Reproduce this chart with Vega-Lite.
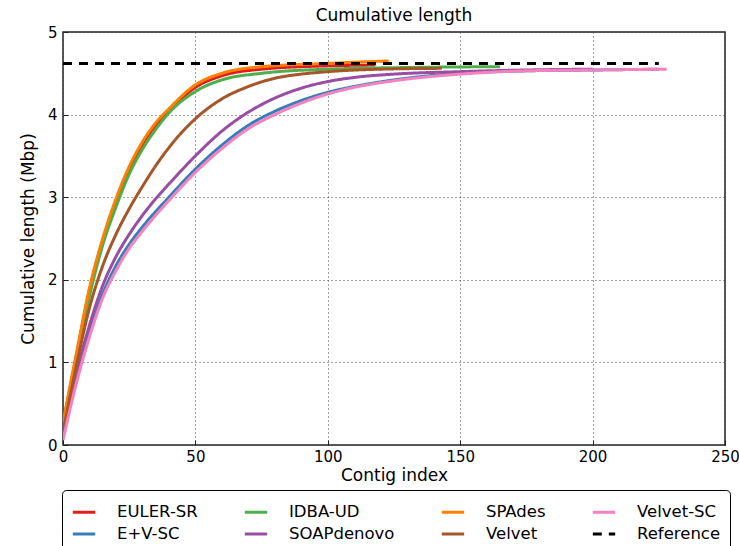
{
  "$schema": "https://vega.github.io/schema/vega-lite/v6.json",
  "width": 662,
  "height": 413,
  "autosize": {"type": "none"},
  "padding": {"left": 63, "top": 32, "right": 14, "bottom": 101},
  "background": "white",
  "title": {"text": "Cumulative length", "font": "DejaVu Sans", "fontSize": 17, "fontWeight": "normal", "color": "#000", "offset": 0},
  "data": {
    "values": [
      {"assembler": "EULER-SR", "index": 0, "length": 0.26},
      {"assembler": "EULER-SR", "index": 5, "length": 1.07},
      {"assembler": "EULER-SR", "index": 10, "length": 1.87},
      {"assembler": "EULER-SR", "index": 15, "length": 2.47},
      {"assembler": "EULER-SR", "index": 20, "length": 2.95},
      {"assembler": "EULER-SR", "index": 25, "length": 3.34},
      {"assembler": "EULER-SR", "index": 30, "length": 3.64},
      {"assembler": "EULER-SR", "index": 35, "length": 3.87},
      {"assembler": "EULER-SR", "index": 40, "length": 4.04},
      {"assembler": "EULER-SR", "index": 50, "length": 4.33},
      {"assembler": "EULER-SR", "index": 60, "length": 4.47},
      {"assembler": "EULER-SR", "index": 75, "length": 4.55},
      {"assembler": "EULER-SR", "index": 100, "length": 4.59},
      {"assembler": "EULER-SR", "index": 118, "length": 4.6},

      {"assembler": "E+V-SC", "index": 0, "length": 0.1},
      {"assembler": "E+V-SC", "index": 5, "length": 0.8},
      {"assembler": "E+V-SC", "index": 10, "length": 1.37},
      {"assembler": "E+V-SC", "index": 15, "length": 1.83},
      {"assembler": "E+V-SC", "index": 20, "length": 2.17},
      {"assembler": "E+V-SC", "index": 25, "length": 2.43},
      {"assembler": "E+V-SC", "index": 30, "length": 2.64},
      {"assembler": "E+V-SC", "index": 40, "length": 3.0},
      {"assembler": "E+V-SC", "index": 50, "length": 3.34},
      {"assembler": "E+V-SC", "index": 60, "length": 3.63},
      {"assembler": "E+V-SC", "index": 70, "length": 3.87},
      {"assembler": "E+V-SC", "index": 80, "length": 4.04},
      {"assembler": "E+V-SC", "index": 90, "length": 4.17},
      {"assembler": "E+V-SC", "index": 100, "length": 4.27},
      {"assembler": "E+V-SC", "index": 110, "length": 4.34},
      {"assembler": "E+V-SC", "index": 125, "length": 4.42},
      {"assembler": "E+V-SC", "index": 150, "length": 4.5},
      {"assembler": "E+V-SC", "index": 175, "length": 4.53},
      {"assembler": "E+V-SC", "index": 200, "length": 4.54},
      {"assembler": "E+V-SC", "index": 225, "length": 4.55},

      {"assembler": "IDBA-UD", "index": 0, "length": 0.2},
      {"assembler": "IDBA-UD", "index": 5, "length": 1.02},
      {"assembler": "IDBA-UD", "index": 10, "length": 1.8},
      {"assembler": "IDBA-UD", "index": 15, "length": 2.42},
      {"assembler": "IDBA-UD", "index": 20, "length": 2.88},
      {"assembler": "IDBA-UD", "index": 25, "length": 3.28},
      {"assembler": "IDBA-UD", "index": 30, "length": 3.58},
      {"assembler": "IDBA-UD", "index": 35, "length": 3.82},
      {"assembler": "IDBA-UD", "index": 40, "length": 4.02},
      {"assembler": "IDBA-UD", "index": 50, "length": 4.28},
      {"assembler": "IDBA-UD", "index": 60, "length": 4.42},
      {"assembler": "IDBA-UD", "index": 75, "length": 4.5},
      {"assembler": "IDBA-UD", "index": 100, "length": 4.55},
      {"assembler": "IDBA-UD", "index": 130, "length": 4.57},
      {"assembler": "IDBA-UD", "index": 165, "length": 4.58},

      {"assembler": "SOAPdenovo", "index": 0, "length": 0.12},
      {"assembler": "SOAPdenovo", "index": 5, "length": 0.86},
      {"assembler": "SOAPdenovo", "index": 10, "length": 1.45},
      {"assembler": "SOAPdenovo", "index": 15, "length": 1.93},
      {"assembler": "SOAPdenovo", "index": 20, "length": 2.28},
      {"assembler": "SOAPdenovo", "index": 25, "length": 2.55},
      {"assembler": "SOAPdenovo", "index": 30, "length": 2.78},
      {"assembler": "SOAPdenovo", "index": 35, "length": 2.98},
      {"assembler": "SOAPdenovo", "index": 40, "length": 3.16},
      {"assembler": "SOAPdenovo", "index": 50, "length": 3.5},
      {"assembler": "SOAPdenovo", "index": 60, "length": 3.8},
      {"assembler": "SOAPdenovo", "index": 70, "length": 4.03},
      {"assembler": "SOAPdenovo", "index": 80, "length": 4.2},
      {"assembler": "SOAPdenovo", "index": 90, "length": 4.32},
      {"assembler": "SOAPdenovo", "index": 100, "length": 4.4},
      {"assembler": "SOAPdenovo", "index": 110, "length": 4.45},
      {"assembler": "SOAPdenovo", "index": 125, "length": 4.49},
      {"assembler": "SOAPdenovo", "index": 150, "length": 4.52},
      {"assembler": "SOAPdenovo", "index": 175, "length": 4.54},
      {"assembler": "SOAPdenovo", "index": 200, "length": 4.55},

      {"assembler": "SPAdes", "index": 0, "length": 0.27},
      {"assembler": "SPAdes", "index": 5, "length": 1.1},
      {"assembler": "SPAdes", "index": 10, "length": 1.9},
      {"assembler": "SPAdes", "index": 15, "length": 2.5},
      {"assembler": "SPAdes", "index": 20, "length": 2.98},
      {"assembler": "SPAdes", "index": 25, "length": 3.37},
      {"assembler": "SPAdes", "index": 30, "length": 3.67},
      {"assembler": "SPAdes", "index": 35, "length": 3.9},
      {"assembler": "SPAdes", "index": 40, "length": 4.07},
      {"assembler": "SPAdes", "index": 50, "length": 4.36},
      {"assembler": "SPAdes", "index": 60, "length": 4.5},
      {"assembler": "SPAdes", "index": 75, "length": 4.58},
      {"assembler": "SPAdes", "index": 100, "length": 4.62},
      {"assembler": "SPAdes", "index": 123, "length": 4.65},

      {"assembler": "Velvet", "index": 0, "length": 0.15},
      {"assembler": "Velvet", "index": 5, "length": 0.95},
      {"assembler": "Velvet", "index": 10, "length": 1.66},
      {"assembler": "Velvet", "index": 15, "length": 2.17},
      {"assembler": "Velvet", "index": 20, "length": 2.55},
      {"assembler": "Velvet", "index": 25, "length": 2.86},
      {"assembler": "Velvet", "index": 30, "length": 3.13},
      {"assembler": "Velvet", "index": 35, "length": 3.38},
      {"assembler": "Velvet", "index": 40, "length": 3.6},
      {"assembler": "Velvet", "index": 45, "length": 3.79},
      {"assembler": "Velvet", "index": 50, "length": 3.95},
      {"assembler": "Velvet", "index": 60, "length": 4.19},
      {"assembler": "Velvet", "index": 70, "length": 4.34},
      {"assembler": "Velvet", "index": 80, "length": 4.44},
      {"assembler": "Velvet", "index": 90, "length": 4.49},
      {"assembler": "Velvet", "index": 100, "length": 4.52},
      {"assembler": "Velvet", "index": 120, "length": 4.55},
      {"assembler": "Velvet", "index": 143, "length": 4.56},

      {"assembler": "Velvet-SC", "index": 0, "length": 0.06},
      {"assembler": "Velvet-SC", "index": 5, "length": 0.74},
      {"assembler": "Velvet-SC", "index": 10, "length": 1.31},
      {"assembler": "Velvet-SC", "index": 15, "length": 1.78},
      {"assembler": "Velvet-SC", "index": 20, "length": 2.11},
      {"assembler": "Velvet-SC", "index": 25, "length": 2.38},
      {"assembler": "Velvet-SC", "index": 30, "length": 2.59},
      {"assembler": "Velvet-SC", "index": 40, "length": 2.96},
      {"assembler": "Velvet-SC", "index": 50, "length": 3.3},
      {"assembler": "Velvet-SC", "index": 60, "length": 3.59},
      {"assembler": "Velvet-SC", "index": 70, "length": 3.83},
      {"assembler": "Velvet-SC", "index": 80, "length": 4.0},
      {"assembler": "Velvet-SC", "index": 90, "length": 4.14},
      {"assembler": "Velvet-SC", "index": 100, "length": 4.25},
      {"assembler": "Velvet-SC", "index": 110, "length": 4.33},
      {"assembler": "Velvet-SC", "index": 125, "length": 4.41},
      {"assembler": "Velvet-SC", "index": 150, "length": 4.49},
      {"assembler": "Velvet-SC", "index": 175, "length": 4.53},
      {"assembler": "Velvet-SC", "index": 200, "length": 4.54},
      {"assembler": "Velvet-SC", "index": 228, "length": 4.55},

      {"assembler": "Reference", "index": 0, "length": 4.62},
      {"assembler": "Reference", "index": 225, "length": 4.62}
    ]
  },
  "mark": {"type": "line", "strokeWidth": 3, "interpolate": "monotone", "clip": true},
  "encoding": {
    "x": {
      "field": "index", "type": "quantitative",
      "scale": {"domain": [0, 250], "nice": false, "zero": false},
      "axis": {"title": "Contig index", "values": [0, 50, 100, 150, 200, 250], "labelFlush": false, "labelPadding": 9, "titlePadding": 3}
    },
    "y": {
      "field": "length", "type": "quantitative",
      "scale": {"domain": [0, 5], "nice": false},
      "axis": {"title": "Cumulative length (Mbp)", "values": [0, 1, 2, 3, 4, 5], "labelFlush": false, "labelPadding": 11, "titlePadding": 10}
    },
    "color": {
      "field": "assembler", "type": "nominal",
      "scale": {
        "domain": ["EULER-SR", "IDBA-UD", "SPAdes", "Velvet-SC", "E+V-SC", "SOAPdenovo", "Velvet", "Reference"],
        "range": ["#e41a1c", "#4daf4a", "#ff7f00", "#f781bf", "#377eb8", "#984ea3", "#a65628", "#000000"]
      },
      "legend": {
        "title": null,
        "orient": "none",
        "legendX": -1,
        "legendY": 458,
        "columns": 4,
        "direction": "horizontal",
        "symbolType": "stroke",
        "symbolSize": 500,
        "symbolStrokeWidth": 3,
        "labelFontSize": 16.5,
        "labelFont": "DejaVu Sans",
        "labelColor": "#000",
        "labelOffset": 20,
        "columnPadding": 40,
        "rowPadding": 0,
        "padding": 9,
        "strokeColor": "#000",
        "cornerRadius": 4,
        "fillColor": "white"
      }
    },
    "strokeDash": {
      "field": "assembler", "type": "nominal",
      "scale": {
        "domain": ["EULER-SR", "IDBA-UD", "SPAdes", "Velvet-SC", "E+V-SC", "SOAPdenovo", "Velvet", "Reference"],
        "range": [[1, 0], [1, 0], [1, 0], [1, 0], [1, 0], [1, 0], [1, 0], [9, 7]]
      }
    }
  },
  "config": {
    "font": "DejaVu Sans",
    "view": {"stroke": "#222", "strokeWidth": 1.5},
    "axis": {
      "domain": false,
      "ticks": true,
      "tickSize": -5,
      "tickColor": "#222",
      "tickWidth": 1,
      "grid": true,
      "gridColor": "#444",
      "gridDash": [1, 3],
      "gridWidth": 1,
      "gridOpacity": 1,
      "labelFont": "DejaVu Sans",
      "labelFontSize": 15,
      "labelColor": "#000",
      "titleFont": "DejaVu Sans",
      "titleFontSize": 17,
      "titleFontWeight": "normal",
      "titleColor": "#000"
    }
  }
}
